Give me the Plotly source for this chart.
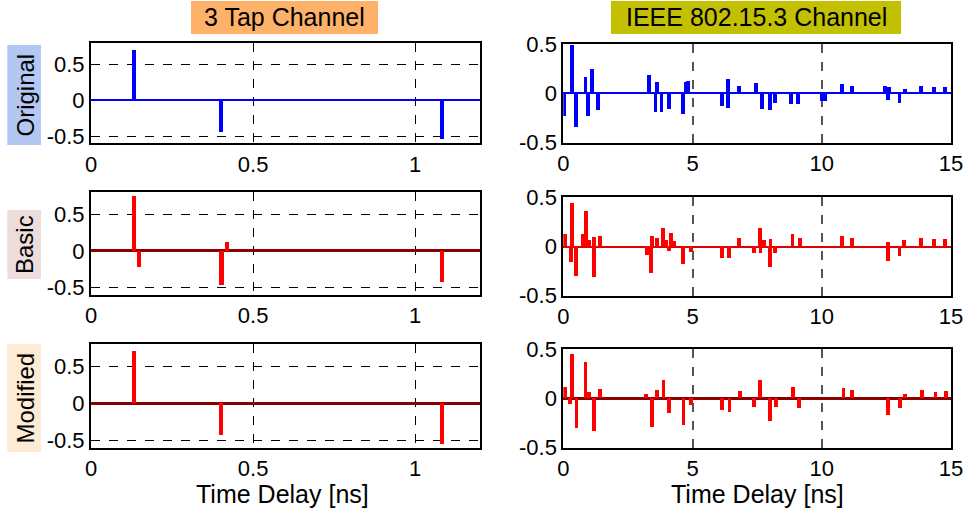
import plotly.graph_objects as go

# ---------------- data ----------------
tap3_orig_x = [0.133, 0.401, 1.083]
tap3_orig_y = [0.70, -0.44, -0.55]
tap3_basic_x = [0.133, 0.148, 0.403, 0.419, 1.083]
tap3_basic_y = [0.75, -0.22, -0.47, 0.125, -0.42]
tap3_mod_x = [0.133, 0.401, 1.083]
tap3_mod_y = [0.71, -0.43, -0.55]

ieee_orig_x = [0.03, 0.34, 0.49, 0.87, 0.97, 1.12, 1.37, 3.33, 3.58, 3.63, 3.81, 4.10, 4.65, 4.74,
               4.85, 6.16, 6.37, 6.39, 6.82, 7.46, 7.71, 8.01, 8.21, 8.81, 9.08, 10.02, 10.15, 10.81,
               11.18, 12.47, 12.57, 12.62, 13.02, 13.22, 13.85, 14.37, 14.78]
ieee_orig_y = [-0.23, 0.49, -0.34, 0.165, -0.23, 0.25, -0.17, 0.19, -0.19, 0.12, -0.19, -0.16, -0.21, 0.12,
               0.13, -0.13, 0.15, -0.145, 0.07, 0.105, -0.155, -0.17, -0.10, -0.11, -0.11, -0.08, -0.08, 0.095,
               0.07, 0.07, -0.07, 0.06, -0.10, 0.04, 0.07, 0.06, 0.06]

ieee_basic_x = [0.08, 0.31, 0.35, 0.49, 0.76, 0.88, 1.00, 1.19, 1.21, 1.43, 3.26, 3.39, 3.44, 3.64, 3.86,
                3.97, 4.10, 4.18, 4.28, 4.65, 4.95, 6.16, 6.42, 6.82, 7.40, 7.62, 7.64, 7.78, 8.01, 8.03,
                8.21, 8.88, 9.17, 10.81, 11.18, 12.56, 12.58, 13.02, 13.20, 13.85, 14.37, 14.78]
ieee_basic_y = [0.12, -0.16, 0.44, -0.30, 0.12, 0.36, 0.06, -0.315, 0.095, 0.105, -0.085, -0.27, 0.105, 0.08, 0.19,
                0.06, -0.05, 0.13, 0.05, -0.18, -0.06, -0.12, -0.12, 0.08, -0.07, 0.19, -0.07, 0.06, -0.21, 0.07,
                -0.07, 0.12, 0.08, 0.105, 0.08, -0.155, 0.045, -0.10, 0.06, 0.08, 0.07, 0.07]

ieee_mod_x = [0.08, 0.26, 0.35, 0.52, 0.87, 1.01, 1.19, 1.43, 3.21, 3.44, 3.64, 3.89, 4.10, 4.66, 4.94,
              6.16, 6.44, 6.85, 7.40, 7.62, 8.01, 8.23, 8.90, 9.14, 10.85, 11.19, 12.59, 13.05, 13.24,
              13.90, 14.41, 14.83]
ieee_mod_y = [0.12, -0.06, 0.45, -0.30, 0.37, 0.06, -0.33, 0.095, 0.045, -0.29, 0.08, 0.19, -0.145, -0.27, -0.07,
              -0.115, -0.135, 0.07, -0.085, 0.19, -0.225, -0.085, 0.12, -0.095, 0.105, 0.08, -0.165, -0.095, 0.045,
              0.08, 0.06, 0.07]

col_titles = ["3 Tap Channel", "IEEE 802.15.3 Channel"]
row_titles = ["Original", "Basic", "Modified"]
x_label = "Time Delay [ns]"

# ---------------- layout helpers ----------------
W, H = 967, 510
FONT = "Liberation Sans, Arial, sans-serif"

def px(x):
    return x / W

def py(y):
    return 1 - y / H

left_dom = [px(91), px(480)]
right_dom = [px(563.3), px(951)]
left_rows = [(43.3, 143.3), (192.3, 295), (344.3, 447.7)]
right_rows = [(44, 142.7), (197.3, 295.7), (349, 447.7)]

panels = [
    (tap3_orig_x, tap3_orig_y, "#0000FF", "#0000FF", 1.5),
    (ieee_orig_x, ieee_orig_y, "#0000FF", "#0000FF", 2),
    (tap3_basic_x, tap3_basic_y, "#FF0000", "#8B0000", 2.5),
    (ieee_basic_x, ieee_basic_y, "#FF0000", "#E00000", 2),
    (tap3_mod_x, tap3_mod_y, "#FF0000", "#8B0000", 2.5),
    (ieee_mod_x, ieee_mod_y, "#FF0000", "#8B0000", 2.5),
]

fig = go.Figure()
layout = {}
for i, (xs, ys, bcol, zcol, zw) in enumerate(panels):
    n = i + 1
    is_left = (i % 2 == 0)
    row = i // 2
    xa = "x" if n == 1 else f"x{n}"
    ya = "y" if n == 1 else f"y{n}"
    fig.add_trace(go.Bar(x=xs, y=ys, xaxis=xa, yaxis=ya,
                         width=0.0135 if is_left else 0.15,
                         marker=dict(color=bcol, line=dict(width=0)),
                         showlegend=False))
    top, bot = (left_rows if is_left else right_rows)[row]
    xkey = "xaxis" if n == 1 else f"xaxis{n}"
    ykey = "yaxis" if n == 1 else f"yaxis{n}"
    if is_left:
        xcfg = dict(range=[0, 1.2], tickvals=[0, 0.5, 1], ticktext=["0", "0.5", "1"],
                    showgrid=True, gridcolor="#000000", gridwidth=1, griddash="dash")
        ycfg = dict(range=[-0.6, 0.8], tickvals=[-0.5, 0, 0.5], ticktext=["-0.5", "0", "0.5"],
                    showgrid=True, gridcolor="#000000", gridwidth=1, griddash="dash")
    else:
        xcfg = dict(range=[0, 15], tickvals=[0, 5, 10, 15], ticktext=["0", "5", "10", "15"],
                    showgrid=True, gridcolor="#555555", gridwidth=1.5, griddash="dash")
        ycfg = dict(range=[-0.5, 0.5], tickvals=[-0.5, 0, 0.5], ticktext=["-0.5", "0", "0.5"],
                    showgrid=False)
    common = dict(showline=True, mirror=True, linecolor="#000000", linewidth=2, ticks="",
                  tickfont=dict(family=FONT, size=22, color="#000000"), fixedrange=True,
                  automargin=False)
    xcfg.update(common, domain=left_dom if is_left else right_dom, anchor=ya, zeroline=False)
    ycfg.update(common, domain=[py(bot), py(top)], anchor=xa,
                zeroline=True, zerolinecolor=zcol, zerolinewidth=zw)
    layout[xkey] = xcfg
    layout[ykey] = ycfg

shapes = []
annotations = []

# column titles with coloured backgrounds
title_boxes = [((191, 378), "#FDB169", 284.5), ((611, 901), "#C2C000", 756)]
for (x0, x1), col, xc in [(b[0], b[1], b[2]) for b in title_boxes]:
    shapes.append(dict(type="rect", xref="paper", yref="paper", x0=px(x0), x1=px(x1),
                       y0=py(34), y1=py(1), fillcolor=col, line=dict(width=0), layer="below"))
for t, (_, _, xc) in zip(col_titles, title_boxes):
    annotations.append(dict(text=t, x=px(xc), y=py(17.5), xref="paper", yref="paper",
                            showarrow=False, xanchor="center", yanchor="middle",
                            font=dict(family=FONT, size=25, color="#000000")))

# row titles
row_boxes = [((45, 145), "#B3C7F2"), ((210, 279), "#EDDCDC"), ((344, 452), "#FDEBD5")]
for t, ((y0, y1), col) in zip(row_titles, row_boxes):
    shapes.append(dict(type="rect", xref="paper", yref="paper", x0=px(7.3), x1=px(41),
                       y0=py(y1), y1=py(y0), fillcolor=col, line=dict(width=0), layer="below"))
    annotations.append(dict(text=t, x=px(24.5), y=py((y0 + y1) / 2), xref="paper", yref="paper",
                            showarrow=False, textangle=-90, xanchor="center", yanchor="middle",
                            font=dict(family=FONT, size=24, color="#000000")))

# x labels
for xc in [282, 757]:
    annotations.append(dict(text=x_label, x=px(xc), y=py(494), xref="paper", yref="paper",
                            showarrow=False, xanchor="center", yanchor="middle",
                            font=dict(family=FONT, size=25, color="#000000")))

fig.update_layout(**layout)
fig.update_layout(width=W, height=H, margin=dict(l=0, r=0, t=0, b=0),
                  paper_bgcolor="#FFFFFF", plot_bgcolor="#FFFFFF",
                  barmode="overlay", bargap=0, shapes=shapes, annotations=annotations,
                  showlegend=False, font=dict(family=FONT))

fig.write_html("out.html")
